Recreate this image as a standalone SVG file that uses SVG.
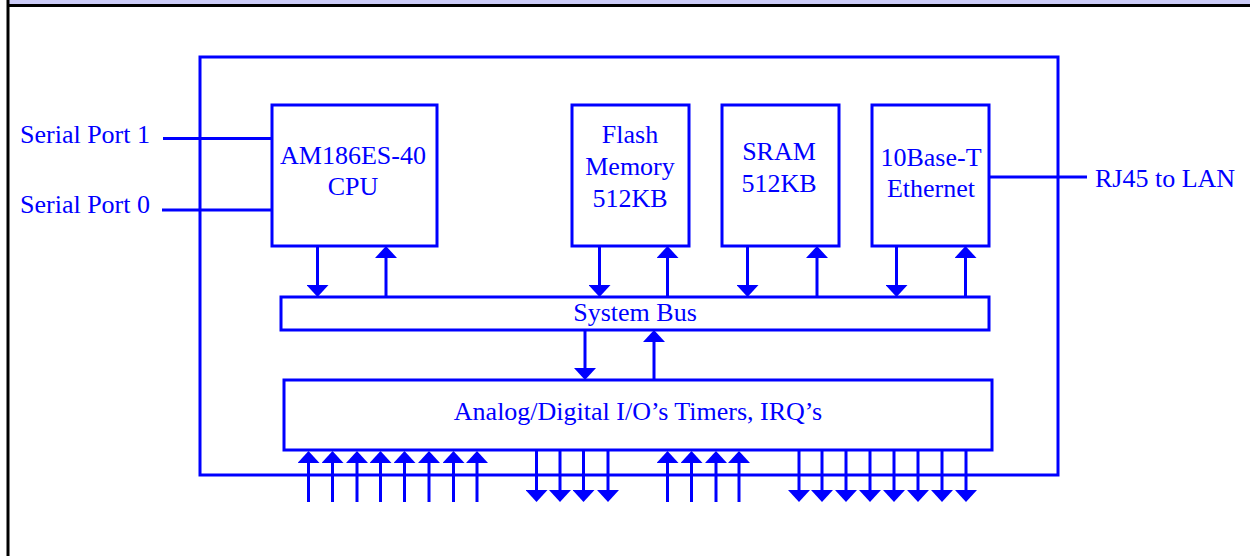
<svg xmlns="http://www.w3.org/2000/svg" width="1250" height="556" viewBox="0 0 1250 556">
<style>
.box{fill:none;stroke:#0000ff;stroke-width:3}
.ln{stroke:#0000ff;stroke-width:3;fill:none}
.ar{stroke:#0000ff;stroke-width:3;fill:none;marker-end:url(#ah)}
text{font-family:"Liberation Serif","Times New Roman",serif;font-size:26px;fill:#0000ff}
.c{text-anchor:middle}
</style>
<defs>
<marker id="ah" viewBox="0 0 12 22" refX="0" refY="11" markerWidth="12" markerHeight="22" markerUnits="userSpaceOnUse" orient="auto">
<path d="M0,0 L12,11 L0,22 z" fill="#0000ff"/>
</marker>
</defs>
<rect x="0" y="0" width="1250" height="556" fill="#ffffff"/>
<rect x="9" y="0" width="1241" height="5" fill="#ccccf8"/>
<line x1="9" y1="5.5" x2="1250" y2="5.5" stroke="#000" stroke-width="3"/>
<line x1="8" y1="0" x2="8" y2="556" stroke="#000" stroke-width="3"/>

<g id="board"><rect class="box" x="200" y="57" width="858" height="418"/></g>
<g id="cpu"><rect class="box" x="272" y="105" width="165" height="141"/>
<text class="c" x="353" y="164">AM186ES-40</text><text class="c" x="353" y="195">CPU</text></g>
<g id="flash"><rect class="box" x="572" y="105" width="117" height="141"/>
<text class="c" x="630" y="143">Flash</text><text class="c" x="630" y="175">Memory</text><text class="c" x="630" y="207">512KB</text></g>
<g id="sram"><rect class="box" x="722" y="105" width="117" height="141"/>
<text class="c" x="779" y="160">SRAM</text><text class="c" x="779" y="192">512KB</text></g>
<g id="ethernet"><rect class="box" x="872" y="105" width="117" height="141"/>
<text class="c" x="931" y="166">10Base-T</text><text class="c" x="931" y="197">Ethernet</text></g>
<g id="bus"><rect class="box" x="281" y="297" width="708" height="33"/>
<text class="c" x="635" y="321">System Bus</text></g>
<g id="io"><rect class="box" x="284" y="380" width="708" height="70"/>
<text class="c" x="638" y="420">Analog/Digital I/O’s Timers, IRQ’s</text></g>
<g id="sp1"><text x="20" y="143">Serial Port 1</text></g>
<g id="sp0"><text x="20" y="213">Serial Port 0</text></g>
<g id="rj45"><text x="1095" y="187">RJ45 to LAN</text></g>

<g id="connectors">
<line class="ln" x1="163" y1="138.5" x2="272" y2="138.5"/>
<line class="ln" x1="162" y1="210" x2="272" y2="210"/>
<line class="ln" x1="989" y1="177" x2="1087" y2="177"/>
<line class="ar" x1="317.5" y1="246" x2="317.5" y2="285"/>
<line class="ar" x1="386" y1="297" x2="386" y2="258"/>
<line class="ar" x1="599.5" y1="246" x2="599.5" y2="285"/>
<line class="ar" x1="667.5" y1="297" x2="667.5" y2="258"/>
<line class="ar" x1="747.5" y1="246" x2="747.5" y2="285"/>
<line class="ar" x1="817" y1="297" x2="817" y2="258"/>
<line class="ar" x1="896.5" y1="246" x2="896.5" y2="285"/>
<line class="ar" x1="965.5" y1="297" x2="965.5" y2="258"/>
<line class="ar" x1="585" y1="330" x2="585" y2="368"/>
<line class="ar" x1="654" y1="380" x2="654" y2="342"/>
<line class="ar" x1="308.5" y1="502" x2="308.5" y2="463"/>
<line class="ar" x1="332.5" y1="502" x2="332.5" y2="463"/>
<line class="ar" x1="357" y1="502" x2="357" y2="463"/>
<line class="ar" x1="380.5" y1="502" x2="380.5" y2="463"/>
<line class="ar" x1="404.5" y1="502" x2="404.5" y2="463"/>
<line class="ar" x1="429" y1="502" x2="429" y2="463"/>
<line class="ar" x1="453.5" y1="502" x2="453.5" y2="463"/>
<line class="ar" x1="477" y1="502" x2="477" y2="463"/>
<line class="ar" x1="536.5" y1="450" x2="536.5" y2="490"/>
<line class="ar" x1="560" y1="450" x2="560" y2="490"/>
<line class="ar" x1="583.5" y1="450" x2="583.5" y2="490"/>
<line class="ar" x1="608" y1="450" x2="608" y2="490"/>
<line class="ar" x1="667.5" y1="502" x2="667.5" y2="463"/>
<line class="ar" x1="691.5" y1="502" x2="691.5" y2="463"/>
<line class="ar" x1="716" y1="502" x2="716" y2="463"/>
<line class="ar" x1="739" y1="502" x2="739" y2="463"/>
<line class="ar" x1="799" y1="450" x2="799" y2="490"/>
<line class="ar" x1="822" y1="450" x2="822" y2="490"/>
<line class="ar" x1="846" y1="450" x2="846" y2="490"/>
<line class="ar" x1="870" y1="450" x2="870" y2="490"/>
<line class="ar" x1="894" y1="450" x2="894" y2="490"/>
<line class="ar" x1="918" y1="450" x2="918" y2="490"/>
<line class="ar" x1="942" y1="450" x2="942" y2="490"/>
<line class="ar" x1="966" y1="450" x2="966" y2="490"/>
</g>
</svg>
